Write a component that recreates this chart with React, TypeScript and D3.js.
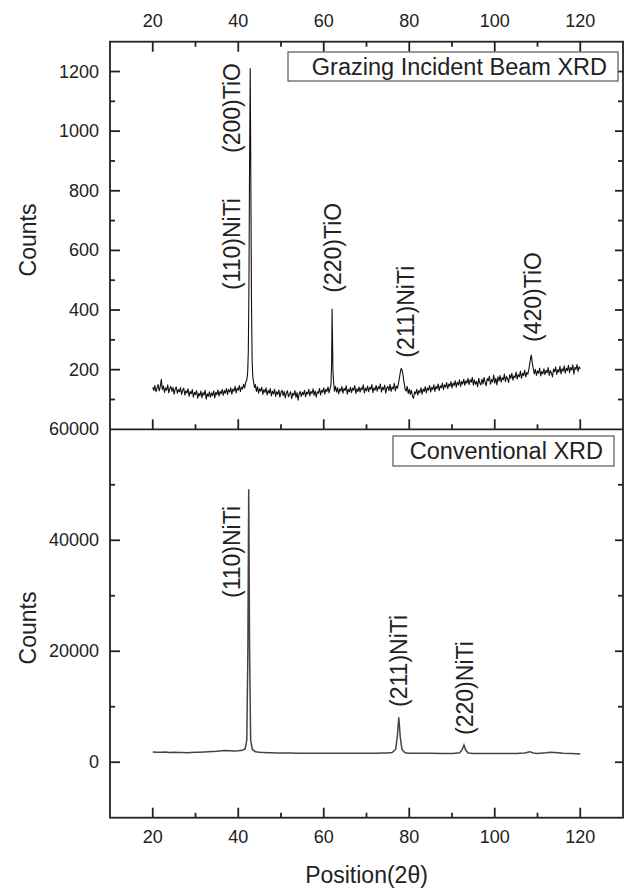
import React, { useRef, useEffect } from "react";
import * as d3 from "d3";

// 2-theta axis
const thetaMajor = [20, 40, 60, 80, 100, 120];
const thetaMinor = [30, 50, 70, 90, 110];

// grazing incidence panel
const gibMajor = [200, 400, 600, 800, 1000, 1200];
const gibMinor = [100, 300, 500, 700, 900, 1100];

// conventional panel
const convMajor = [0, 20000, 40000, 60000];
const convMinor = [10000, 30000, 50000];

// [2theta, counts]
const gibScan: [number, number][] = [
  [20, 141], [20.25, 130], [20.5, 147], [20.75, 126], [21, 138], [21.25, 150], [21.5, 129], [21.75, 142],
  [22, 168], [22.25, 133], [22.5, 146], [22.75, 124], [23, 139], [23.25, 131], [23.5, 149], [23.75, 122],
  [24, 137], [24.25, 144], [24.5, 127], [24.75, 140], [25, 118], [25.25, 135], [25.5, 142], [25.75, 121],
  [26, 133], [26.25, 126], [26.5, 140], [26.75, 117], [27, 131], [27.25, 138], [27.5, 115], [27.75, 129],
  [28, 122], [28.25, 136], [28.5, 110], [28.75, 127], [29, 119], [29.25, 133], [29.5, 108], [29.75, 124],
  [30, 117], [30.25, 130], [30.5, 104], [30.75, 121], [31, 112], [31.25, 128], [31.5, 106], [31.75, 123],
  [32, 115], [32.25, 131], [32.5, 101], [32.75, 119], [33, 110], [33.25, 126], [33.5, 108], [33.75, 122],
  [34, 113], [34.25, 129], [34.5, 105], [34.75, 124], [35, 116], [35.25, 132], [35.5, 111], [35.75, 127],
  [36, 119], [36.25, 134], [36.5, 114], [36.75, 130], [37, 121], [37.25, 137], [37.5, 117], [37.75, 133],
  [38, 125], [38.25, 139], [38.5, 118], [38.75, 135], [39, 128], [39.25, 144], [39.5, 122], [39.75, 138],
  [40, 131], [40.25, 147], [40.5, 126], [40.75, 142], [41, 135], [41.25, 151], [41.5, 139], [41.75, 158],
  [42, 165], [42.2, 190], [42.35, 260], [42.5, 480], [42.65, 900], [42.8, 1210], [42.95, 820], [43.1, 420],
  [43.25, 230], [43.4, 175], [43.6, 158], [43.8, 140],
  [44, 150], [44.25, 127], [44.5, 143], [44.75, 121], [45, 136], [45.25, 128], [45.5, 141], [45.75, 117],
  [46, 133], [46.25, 124], [46.5, 139], [46.75, 115], [47, 130], [47.25, 121], [47.5, 137], [47.75, 112],
  [48, 128], [48.25, 119], [48.5, 134], [48.75, 110], [49, 126], [49.25, 117], [49.5, 132], [49.75, 108],
  [50, 124], [50.25, 131], [50.5, 113], [50.75, 127], [51, 105], [51.25, 122], [51.5, 129], [51.75, 109],
  [52, 118], [52.25, 126], [52.5, 103], [52.75, 121], [53, 114], [53.25, 130], [53.5, 107], [53.75, 123],
  [54, 98], [54.25, 119], [54.5, 127], [54.75, 110], [55, 124], [55.25, 116], [55.5, 131], [55.75, 109],
  [56, 125], [56.25, 118], [56.5, 134], [56.75, 112], [57, 127], [57.25, 120], [57.5, 136], [57.75, 114],
  [58, 129], [58.25, 108], [58.5, 126], [58.75, 121], [59, 137], [59.25, 115], [59.5, 131], [59.75, 124],
  [60, 139], [60.25, 118], [60.5, 134], [60.75, 127], [61, 142], [61.25, 122], [61.5, 138], [61.7, 150],
  [61.85, 230], [61.95, 403], [62.05, 300], [62.15, 200], [62.3, 160],
  [62.5, 128], [62.75, 144], [63, 125], [63.25, 139], [63.5, 119], [63.75, 136], [64, 128], [64.25, 143],
  [64.5, 121], [64.75, 137], [65, 130], [65.25, 146], [65.5, 118], [65.75, 134], [66, 126], [66.25, 141],
  [66.5, 123], [66.75, 138], [67, 131], [67.25, 147], [67.5, 120], [67.75, 136], [68, 127], [68.25, 142],
  [68.5, 125], [68.75, 139], [69, 133], [69.25, 149], [69.5, 122], [69.75, 138], [70, 129], [70.25, 145],
  [70.5, 126], [70.75, 141], [71, 134], [71.25, 150], [71.5, 123], [71.75, 139], [72, 131], [72.25, 147],
  [72.5, 128], [72.75, 143], [73, 136], [73.25, 152], [73.5, 125], [73.75, 141], [74, 133], [74.25, 148],
  [74.5, 121], [74.75, 139], [75, 144], [75.25, 130], [75.5, 151], [75.75, 127], [76, 142], [76.25, 135],
  [76.5, 154], [76.75, 129], [77, 145], [77.25, 138], [77.5, 156],
  [77.7, 172], [77.9, 190], [78.1, 204], [78.3, 200], [78.5, 186], [78.7, 165], [78.9, 148],
  [79, 136], [79.25, 128], [79.5, 144], [79.75, 120], [80, 135], [80.25, 117], [80.5, 131], [80.75, 112],
  [81, 104], [81.25, 126], [81.5, 119], [81.75, 134], [82, 115], [82.25, 130], [82.5, 123], [82.75, 139],
  [83, 118], [83.25, 135], [83.5, 127], [83.75, 143], [84, 122], [84.25, 138], [84.5, 131], [84.75, 147],
  [85, 125], [85.25, 141], [85.5, 133], [85.75, 149], [86, 127], [86.25, 144], [86.5, 136], [86.75, 152],
  [87, 130], [87.25, 146], [87.5, 139], [87.75, 155], [88, 133], [88.25, 149], [88.5, 141], [88.75, 157],
  [89, 136], [89.25, 152], [89.5, 144], [89.75, 160], [90, 139], [90.25, 155], [90.5, 147], [90.75, 163],
  [91, 141], [91.25, 158], [91.5, 149], [91.75, 166], [92, 144], [92.25, 160], [92.5, 152], [92.75, 168],
  [93, 147], [93.25, 163], [93.5, 155], [93.75, 171], [94, 150], [94.25, 166], [94.5, 158], [94.75, 174],
  [95, 148], [95.25, 166], [95.5, 151], [95.75, 160], [96, 143], [96.25, 171], [96.5, 155], [96.75, 149],
  [97, 168], [97.25, 152], [97.5, 174], [97.75, 157], [98, 146], [98.25, 170], [98.5, 163], [98.75, 178],
  [99, 151], [99.25, 167], [99.5, 159], [99.75, 182], [100, 155], [100.25, 171], [100.5, 149], [100.75, 176],
  [101, 162], [101.25, 180], [101.5, 158], [101.75, 173], [102, 166], [102.25, 185], [102.5, 160], [102.75, 177],
  [103, 169], [103.25, 157], [103.5, 183], [103.75, 171], [104, 188], [104.25, 165], [104.5, 179], [104.75, 173],
  [105, 192], [105.25, 168], [105.5, 184], [105.75, 176], [106, 195], [106.25, 171], [106.5, 188], [106.75, 180],
  [107, 198], [107.25, 176], [107.5, 190], [107.75, 185], [108, 203],
  [108.2, 222], [108.4, 240], [108.55, 249], [108.7, 232], [108.85, 215], [109, 205],
  [109.25, 186], [109.5, 201], [109.75, 181], [110, 196], [110.25, 188], [110.5, 205], [110.75, 179], [111, 194],
  [111.25, 186], [111.5, 203], [111.75, 183], [112, 198], [112.25, 190], [112.5, 207], [112.75, 181], [113, 197],
  [113.25, 189], [113.5, 176], [113.75, 202], [114, 193], [114.25, 209], [114.5, 184], [114.75, 200], [115, 192],
  [115.25, 211], [115.5, 186], [115.75, 203], [116, 195], [116.25, 213], [116.5, 188], [116.75, 205], [117, 197],
  [117.25, 215], [117.5, 190], [117.75, 207], [118, 199], [118.25, 216], [118.5, 185], [118.75, 208], [119, 201],
  [119.25, 217], [119.5, 194], [119.75, 210], [120, 203],
];

// [2theta, counts]
const convScan: [number, number][] = [
  [20, 1850], [21, 1800], [22, 1780], [23, 1820], [24, 1760], [25, 1790], [26, 1740], [27, 1770],
  [28, 1720], [29, 1750], [30, 1780], [31, 1810], [32, 1850], [33, 1900], [34, 1940], [35, 1980],
  [36, 2050], [37, 2100], [38, 2060], [39, 2000], [40, 2050], [41, 2150], [41.6, 2400],
  [42.0, 4000], [42.25, 20000], [42.45, 49200], [42.65, 20000], [42.9, 4000], [43.3, 2300],
  [44, 1900], [45, 1800], [46, 1760], [47, 1720], [48, 1700], [49, 1680], [50, 1660], [52, 1640],
  [54, 1620], [56, 1610], [58, 1600], [60, 1600], [62, 1610], [64, 1600], [66, 1620], [68, 1610],
  [70, 1620], [72, 1630], [74, 1640], [75, 1650], [76, 1750], [76.8, 2300], [77.2, 4500],
  [77.55, 8100], [77.9, 4500], [78.3, 2300], [79, 1700], [80, 1620], [82, 1610], [85, 1600],
  [88, 1590], [90, 1580], [91.8, 1700], [92.4, 2300], [92.8, 3100], [93.2, 2200], [93.8, 1650],
  [95, 1580], [98, 1570], [100, 1560], [103, 1570], [105, 1580], [107, 1650], [108.2, 1900],
  [109, 1650], [110, 1580], [112, 1700], [113, 1800], [114, 1750], [116, 1620], [118, 1550], [120, 1500],
];

const gibPeaks = [
  { label: "(200)TiO", theta: 38.5, counts: 927 },
  { label: "(110)NiTi", theta: 38.5, counts: 467 },
  { label: "(220)TiO", theta: 62.1, counts: 458 },
  { label: "(211)NiTi", theta: 79.2, counts: 240 },
  { label: "(420)TiO", theta: 108.9, counts: 293 },
];

const convPeaks = [
  { label: "(110)NiTi", theta: 38.5, counts: 29600 },
  { label: "(211)NiTi", theta: 77.6, counts: 9960 },
  { label: "(220)NiTi", theta: 93.0, counts: 4920 },
];

const FONT = "'Liberation Sans', Arial, sans-serif";
const INK = "#222";

const XrdPanels = () => {
  const svgRef = useRef<SVGSVGElement | null>(null);
  const W = 624;
  const H = 888;
  const left = 110;
  const right = 623;
  const top = 41.7;
  const mid = 429.3;
  const bottom = 817.7;

  useEffect(() => {
    const svg = d3.select(svgRef.current);
    svg.selectAll("*").remove();

    const x = d3.scaleLinear().domain([10, 130]).range([left, right]);
    const yTop = d3.scaleLinear().domain([0, 1300]).range([mid, top]);
    const yBot = d3.scaleLinear().domain([-10000, 60000]).range([bottom, mid]);

    const g = svg.append("g");

    // traces
    const lineTop = d3
      .line<[number, number]>()
      .x((d) => x(d[0]))
      .y((d) => yTop(d[1]));
    const lineBot = d3
      .line<[number, number]>()
      .x((d) => x(d[0]))
      .y((d) => yBot(d[1]));

    g.append("path")
      .attr("d", lineTop(gibScan))
      .attr("fill", "none")
      .attr("stroke", "#111")
      .attr("stroke-width", 1.1)
      .attr("stroke-linejoin", "round");

    g.append("path")
      .attr("d", lineBot(convScan))
      .attr("fill", "none")
      .attr("stroke", "#444")
      .attr("stroke-width", 1.5);

    const tick = (x1: number, y1: number, x2: number, y2: number) =>
      g.append("line")
        .attr("x1", x1).attr("y1", y1).attr("x2", x2).attr("y2", y2)
        .attr("stroke", INK).attr("stroke-width", 1.8);

    // x ticks: top edge, middle (top panel bottom), bottom edge
    thetaMajor.forEach((t) => {
      tick(x(t), top, x(t), top + 10);
      tick(x(t), mid, x(t), mid - 10);
      tick(x(t), bottom, x(t), bottom - 10);
    });
    thetaMinor.forEach((t) => {
      tick(x(t), top, x(t), top + 5);
      tick(x(t), mid, x(t), mid - 5);
      tick(x(t), bottom, x(t), bottom - 5);
    });

    // y ticks both sides
    gibMajor.forEach((v) => {
      tick(left, yTop(v), left + 10, yTop(v));
      tick(right, yTop(v), right - 8, yTop(v));
    });
    gibMinor.forEach((v) => {
      tick(left, yTop(v), left + 5, yTop(v));
      tick(right, yTop(v), right - 5, yTop(v));
    });
    convMajor.filter((v) => v < 60000).forEach((v) => {
      tick(left, yBot(v), left + 10, yBot(v));
      tick(right, yBot(v), right - 8, yBot(v));
    });
    convMinor.forEach((v) => {
      tick(left, yBot(v), left + 5, yBot(v));
      tick(right, yBot(v), right - 5, yBot(v));
    });

    // frame
    g.append("rect")
      .attr("x", left).attr("y", top)
      .attr("width", right - left).attr("height", bottom - top)
      .attr("fill", "none").attr("stroke", INK).attr("stroke-width", 1.8);
    g.append("line")
      .attr("x1", left).attr("x2", right).attr("y1", mid).attr("y2", mid)
      .attr("stroke", INK).attr("stroke-width", 1.8);

    const text = (s: string, tx: number, ty: number, size: number, anchor: string) =>
      g.append("text")
        .attr("x", tx).attr("y", ty)
        .attr("text-anchor", anchor)
        .attr("dominant-baseline", "central")
        .attr("font-family", FONT)
        .attr("font-size", size)
        .attr("fill", INK)
        .text(s);

    thetaMajor.forEach((t) => {
      text(String(t), x(t), 21, 18, "middle");
      text(String(t), x(t), 837, 18, "middle");
    });
    gibMajor.forEach((v) => text(String(v), 99, yTop(v), 18, "end"));
    convMajor.forEach((v) => text(String(v), 99, yBot(v), 18, "end"));

    // axis titles
    g.append("text")
      .attr("transform", `translate(28,240) rotate(-90)`)
      .attr("text-anchor", "middle").attr("dominant-baseline", "central")
      .attr("font-family", FONT).attr("font-size", 23).attr("fill", INK)
      .text("Counts");
    g.append("text")
      .attr("transform", `translate(28,628) rotate(-90)`)
      .attr("text-anchor", "middle").attr("dominant-baseline", "central")
      .attr("font-family", FONT).attr("font-size", 23).attr("fill", INK)
      .text("Counts");
    text("Position(2\u03b8)", (left + right) / 2, 875, 23, "middle");

    // legend boxes
    const legend = (s: string, x0: number, x1: number, y0: number, y1: number) => {
      g.append("rect")
        .attr("x", x0).attr("y", y0).attr("width", x1 - x0).attr("height", y1 - y0)
        .attr("fill", "#fff").attr("stroke", "#555").attr("stroke-width", 1.2);
      text(s, x1 - 11, (y0 + y1) / 2, 23.5, "end");
    };
    legend("Grazing Incident Beam XRD", 288, 618, 52, 81);
    legend("Conventional XRD", 393, 614, 436, 466);

    // peak labels
    const peakLabel = (s: string, px: number, py: number) =>
      g.append("text")
        .attr("transform", `translate(${px},${py}) rotate(-90)`)
        .attr("text-anchor", "start").attr("dominant-baseline", "central")
        .attr("font-family", FONT).attr("font-size", 23).attr("fill", INK)
        .text(s);
    gibPeaks.forEach((p) => peakLabel(p.label, x(p.theta), yTop(p.counts)));
    convPeaks.forEach((p) => peakLabel(p.label, x(p.theta), yBot(p.counts)));
  }, []);

  return (
    <svg
      ref={svgRef}
      width={W}
      height={H}
      style={{ position: "absolute", left: 0, top: 0, display: "block", background: "#fff" }}
    />
  );
};

export default function App() {
  return <XrdPanels />;
}
